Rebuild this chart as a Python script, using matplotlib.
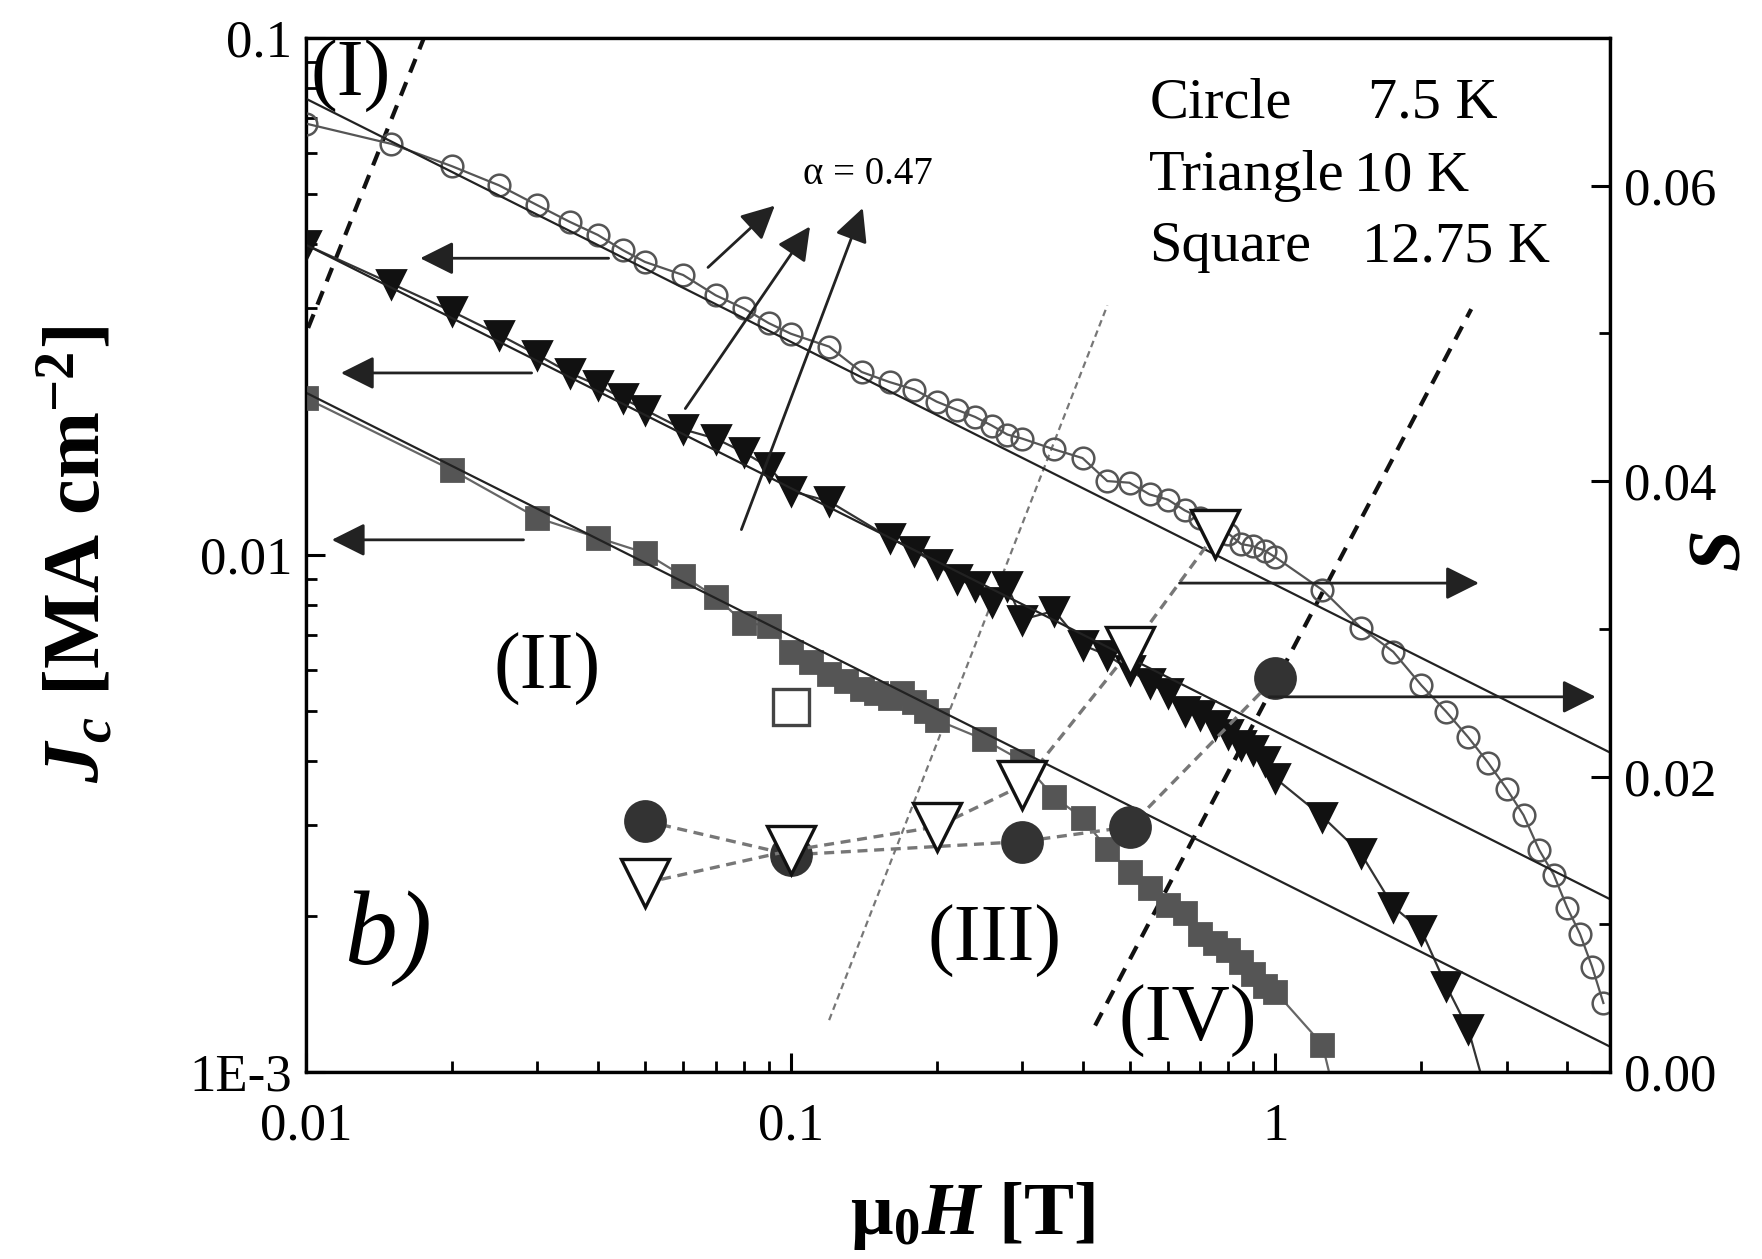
import matplotlib
matplotlib.use('Agg')
import matplotlib.pyplot as plt
from matplotlib.ticker import LogLocator, NullFormatter, MultipleLocator

plt.rcParams['font.family'] = ['Liberation Serif', 'DejaVu Serif']
plt.rcParams['mathtext.fontset'] = 'custom'
plt.rcParams['mathtext.rm'] = 'Liberation Serif:bold'
plt.rcParams['mathtext.it'] = 'Liberation Serif:italic:bold'
plt.rcParams['mathtext.bf'] = 'Liberation Serif:bold'

# Jc(H) at 7.5 K (open circles)
h_circle = [0.01, 0.015, 0.02, 0.025, 0.03, 0.035, 0.04, 0.045, 0.05, 0.06, 0.07, 0.08, 0.09, 0.1,
            0.12, 0.14, 0.16, 0.18, 0.2, 0.22, 0.24, 0.26, 0.28, 0.3, 0.35, 0.4, 0.45, 0.5, 0.55,
            0.6, 0.65, 0.7, 0.75, 0.8, 0.85, 0.9, 0.95, 1.0, 1.25, 1.5, 1.75, 2.0, 2.25, 2.5, 2.75,
            3.0, 3.25, 3.5, 3.75, 4.0, 4.25, 4.5, 4.75]
jc_circle = [0.0683, 0.0624, 0.0565, 0.0519, 0.0475, 0.0441, 0.0416, 0.0389, 0.0369, 0.0348, 0.0318,
             0.0300, 0.0281, 0.0268, 0.0253, 0.0226, 0.0216, 0.0209, 0.0198, 0.0191, 0.0185, 0.0178,
             0.0171, 0.0168, 0.0160, 0.0154, 0.0139, 0.0138, 0.0131, 0.0128, 0.0122, 0.0118, 0.0114,
             0.0110, 0.0105, 0.0104, 0.0102, 0.0099, 0.00856, 0.00724, 0.0065, 0.0056, 0.00498,
             0.00444, 0.00396, 0.00353, 0.00314, 0.00269, 0.00241, 0.00208, 0.00185, 0.0016, 0.00136]

# Jc(H) at 10 K (filled triangles)
h_tri = [0.01, 0.015, 0.02, 0.025, 0.03, 0.035, 0.04, 0.045, 0.05, 0.06, 0.07, 0.08, 0.09, 0.1,
         0.12, 0.16, 0.18, 0.2, 0.22, 0.24, 0.26, 0.28, 0.3, 0.35, 0.4, 0.45, 0.5, 0.55, 0.6, 0.65,
         0.7, 0.75, 0.8, 0.85, 0.9, 0.95, 1.0, 1.25, 1.5, 1.75, 2.0, 2.25, 2.5, 2.75]
jc_tri = [0.0398, 0.0335, 0.0296, 0.0267, 0.0244, 0.0225, 0.0213, 0.0201, 0.0191, 0.0175, 0.0168,
          0.0158, 0.0148, 0.0133, 0.0127, 0.0108, 0.0102, 0.0096, 0.0090, 0.0087, 0.0081, 0.0087,
          0.0075, 0.0078, 0.0067, 0.0064, 0.0060, 0.00565, 0.0054, 0.0050, 0.0049, 0.0047, 0.0045,
          0.0043, 0.0042, 0.0040, 0.0037, 0.00312, 0.00265, 0.00209, 0.00188, 0.00147, 0.00121, 0.00088]

# Jc(H) at 12.75 K (filled squares)
h_sq = [0.01, 0.02, 0.03, 0.04, 0.05, 0.06, 0.07, 0.08, 0.09, 0.1, 0.11, 0.12, 0.13, 0.14, 0.15,
        0.16, 0.17, 0.18, 0.19, 0.2, 0.25, 0.3, 0.35, 0.4, 0.45, 0.5, 0.55, 0.6, 0.65, 0.7, 0.75,
        0.8, 0.85, 0.9, 0.95, 1.0, 1.25, 1.5]
jc_sq = [0.0201, 0.0146, 0.0118, 0.0108, 0.0101, 0.0091, 0.0083, 0.0074, 0.0073, 0.0065, 0.0062,
         0.0059, 0.0057, 0.0055, 0.0054, 0.0053, 0.0054, 0.0052, 0.0050, 0.0048, 0.0044, 0.0040,
         0.0034, 0.0031, 0.0027, 0.00244, 0.00227, 0.0021, 0.00203, 0.00185, 0.00178, 0.00172,
         0.00163, 0.00155, 0.00147, 0.00143, 0.00113, 0.00056]

# power-law fits, alpha = 0.47
fit_h = [0.01, 4.9]
fit_circle = [0.0763, 0.00415]
fit_tri = [0.0398, 0.00216]
fit_sq = [0.0206, 0.00112]

# creep rate S (right axis)
s_circle_h = [0.05, 0.1, 0.3, 0.5, 1.0]
s_circle = [0.0170, 0.0147, 0.0156, 0.0166, 0.0267]
s_tri_h = [0.05, 0.1, 0.2, 0.3, 0.5, 0.75]
s_tri = [0.0128, 0.0150, 0.0166, 0.0194, 0.0285, 0.0364]
s_sq_h = [0.1]
s_sq = [0.0247]

# regime boundaries
bound1_h, bound1_jc = [0.0101, 0.0175], [0.0275, 0.1]
bound2_h, bound2_jc = [0.12, 0.45], [0.00126, 0.0304]
bound3_h, bound3_jc = [0.4246, 2.535], [0.00123, 0.0299]

# arrows: (tail, head)
arrows_left = [((0.0421, 0.0375), (0.0172, 0.0375)),
               ((0.0292, 0.0225), (0.0118, 0.0225)),
               ((0.0281, 0.0107), (0.0113, 0.0107))]
arrows_alpha = [((0.0675, 0.0360), (0.0927, 0.0474)),
                ((0.0606, 0.0192), (0.1096, 0.0432)),
                ((0.0791, 0.0112), (0.1408, 0.0469))]
arrows_right = [((0.634, 0.0331), (2.63, 0.0331)),
                ((0.97, 0.0254), (4.58, 0.0254))]

fig = plt.figure(figsize=(8.81, 6.295), dpi=200)
ax = fig.add_axes([0.1737, 0.1485, 0.74, 0.8213])
ax.set_xscale('log')
ax.set_yscale('log')

ax.plot(h_circle, jc_circle, color='#555555', lw=0.8, marker='o', ms=7.8, mfc='none',
        mec='#555555', mew=0.9, zorder=3)
ax.plot(h_tri, jc_tri, color='#333333', lw=0.8, marker='v', ms=10, mfc='#111111',
        mec='#111111', zorder=3)
ax.plot(h_sq, jc_sq, color='#666666', lw=0.8, marker='s', ms=8, mfc='#555555',
        mec='#555555', zorder=3)
for fj in [fit_circle, fit_tri, fit_sq]:
    ax.plot(fit_h, fj, color='#222222', lw=0.8, zorder=4)

ax.plot(bound1_h, bound1_jc, color='#111111', lw=1.5, ls=(0, (3.5, 2.5)), zorder=2)
ax.plot(bound2_h, bound2_jc, color='#777777', lw=0.8, ls=(0, (3, 2)), zorder=2)
ax.plot(bound3_h, bound3_jc, color='#111111', lw=1.5, ls=(0, (3.5, 2.5)), zorder=2)

arrow_style = dict(arrowstyle='-|>,head_length=0.6,head_width=0.3', color='#222222', lw=1.0,
                   shrinkA=0, shrinkB=0, mutation_scale=17)
for tail, head in arrows_left + arrows_alpha:
    ax.annotate('', xy=head, xytext=tail, arrowprops=arrow_style, zorder=5)

ax.set_xlim(0.01, 4.9)
ax.set_ylim(1e-3, 0.1)
ax.set_xticks([0.01, 0.1, 1])
ax.set_xticklabels(['0.01', '0.1', '1'])
ax.set_yticks([1e-3, 0.01, 0.1])
ax.set_yticklabels(['1E-3', '0.01', '0.1'])
ax.xaxis.set_minor_locator(LogLocator(subs=range(2, 10)))
ax.yaxis.set_minor_locator(LogLocator(subs=range(2, 10)))
ax.xaxis.set_minor_formatter(NullFormatter())
ax.yaxis.set_minor_formatter(NullFormatter())
ax.tick_params(which='both', direction='in', top=False, right=False, labelsize=19)
ax.tick_params(which='major', length=7, width=1.1)
ax.tick_params(which='minor', length=4, width=1.0)
ax.tick_params(axis='x', pad=11)
ax.tick_params(axis='y', pad=5)
for sp in ax.spines.values():
    sp.set_linewidth(1.2)

ax.set_xlabel(r'$\mathrm{\mu}_\mathrm{0}H$ [T]', fontsize=27, fontweight='bold')
ax.xaxis.set_label_coords(0.511, -0.104)
ax.set_ylabel(r'$J_c$ [MA cm$^\mathrm{-2}$]', fontsize=29, fontweight='bold')
ax.yaxis.set_label_coords(-0.145, 0.5)

# region labels and notes
ax.text(0.01236, 0.0843, '(I)', fontsize=29, ha='center', va='center')
ax.text(0.0314, 0.0060, '(II)', fontsize=29, ha='center', va='center')
ax.text(0.2628, 0.00179, '(III)', fontsize=29, ha='center', va='center')
ax.text(0.658, 0.00125, '(IV)', fontsize=29, ha='center', va='center')
ax.text(0.01474, 0.00181, 'b)', fontsize=38, style='italic', ha='center', va='center')
ax.text(0.1061, 0.0545, 'α = 0.47', fontsize=14, ha='left', va='center')

ax.text(0.6468, 0.9368, 'Circle', transform=ax.transAxes, fontsize=21, va='center')
ax.text(0.8141, 0.9368, '7.5 K', transform=ax.transAxes, fontsize=21, va='center')
ax.text(0.6468, 0.8662, 'Triangle', transform=ax.transAxes, fontsize=21, va='center')
ax.text(0.8037, 0.8662, '10 K', transform=ax.transAxes, fontsize=21, va='center')
ax.text(0.6468, 0.7977, 'Square', transform=ax.transAxes, fontsize=21, va='center')
ax.text(0.8098, 0.7977, '12.75 K', transform=ax.transAxes, fontsize=21, va='center')

ax2 = ax.twinx()
ax2.plot(s_circle_h, s_circle, color='#777777', lw=1.2, ls=(0, (3, 2)), marker='o', ms=14.4,
         mfc='#333333', mec='#333333', zorder=3)
ax2.plot(s_tri_h, s_tri, color='#777777', lw=1.2, ls=(0, (3, 2)), marker='v', ms=17,
         mfc='white', mec='#111111', mew=1.2, zorder=4)
ax2.plot(s_sq_h, s_sq, ls='none', marker='s', ms=13, mfc='white', mec='#444444', mew=1.2, zorder=4)
for tail, head in arrows_right:
    ax2.annotate('', xy=head, xytext=tail, arrowprops=arrow_style, zorder=5)

ax2.set_ylim(0, 0.07)
ax2.yaxis.set_major_locator(MultipleLocator(0.02))
ax2.yaxis.set_minor_locator(MultipleLocator(0.01))
ax2.set_yticklabels([f'{v:.2f}' for v in ax2.get_yticks()])
ax2.set_ylim(0, 0.07)
ax2.tick_params(which='both', direction='in', labelsize=19, pad=5)
ax2.tick_params(which='major', length=7, width=1.1)
ax2.tick_params(which='minor', length=4, width=1.0)
ax2.set_ylabel(r'$S$', fontsize=27, rotation=90, va='center', ha='center')
ax2.yaxis.set_label_coords(1.086, 0.503)

fig.savefig('out.png', dpi=200)
